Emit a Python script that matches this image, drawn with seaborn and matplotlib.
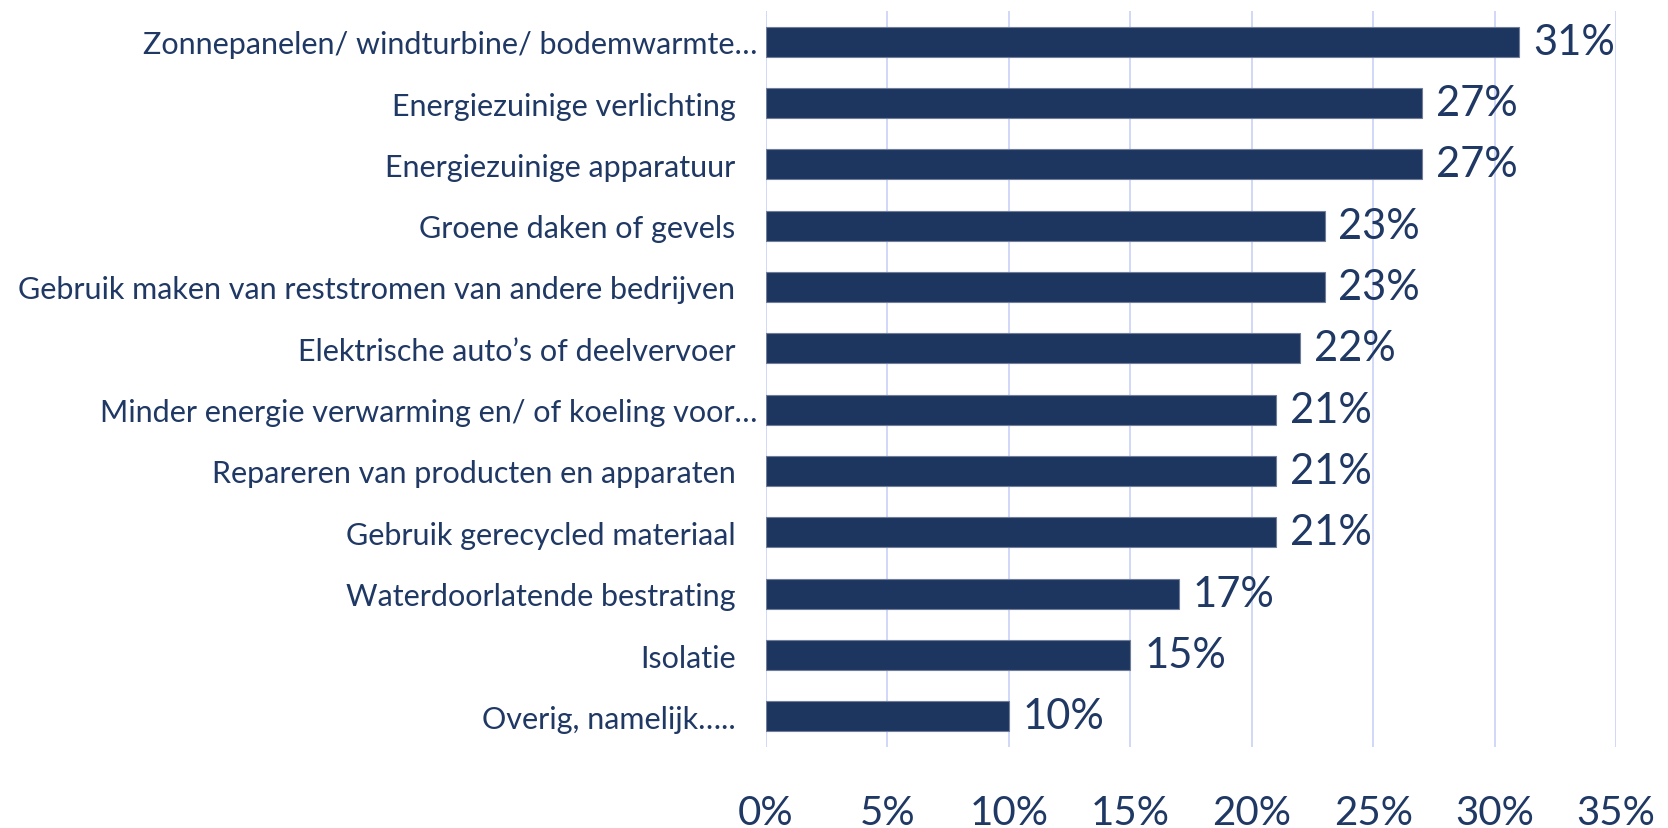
import matplotlib
matplotlib.use("Agg")
import matplotlib.pyplot as plt
import seaborn as sns
import pandas as pd

categories = [
    "Zonnepanelen/ windturbine/ bodemwarmte…",
    "Energiezuinige verlichting",
    "Energiezuinige apparatuur",
    "Groene daken of gevels",
    "Gebruik maken van reststromen van andere bedrijven",
    "Elektrische auto’s of deelvervoer",
    "Minder energie verwarming en/ of koeling voor…",
    "Repareren van producten en apparaten",
    "Gebruik gerecycled materiaal",
    "Waterdoorlatende bestrating",
    "Isolatie",
    "Overig, namelijk…..",
]
values = [31, 27, 27, 23, 23, 22, 21, 21, 21, 17, 15, 10]
xticks = [0, 5, 10, 15, 20, 25, 30, 35]
xticklabels = ["0%", "5%", "10%", "15%", "20%", "25%", "30%", "35%"]

sns.set_theme(style="white")
plt.rcParams['font.family'] = ['Lato', 'DejaVu Sans']

BAR = "#1D3660"
TXT = "#1F3864"
GRID = "#C9D2F7"

df = pd.DataFrame({"cat": categories, "val": values})

fig = plt.figure(figsize=(16.68, 8.29), dpi=100)
ax = fig.add_axes([766/1668, 1 - 748/829, 850/1668, 736/829])

sns.barplot(data=df, y="cat", x="val", orient="h", color=BAR, width=0.49,
            edgecolor="#6F7D99", linewidth=0.8, saturation=1, ax=ax, zorder=3)

ax.set_xlim(0, 35)
ax.set_ylim(len(categories) - 0.5, -0.5)
ax.set_xticks(xticks)
ax.set_xticklabels(xticklabels, fontsize=29, color=TXT)
ax.tick_params(axis="x", length=0, pad=34)
ax.tick_params(axis="y", length=0, labelsize=22, labelcolor=TXT)
for tick, lab in zip(ax.yaxis.get_major_ticks(), categories):
    tick.set_pad(6.5 if lab.endswith("…") and not lab.endswith("…..") else 22)

ax.set_xlabel("")
ax.set_ylabel("")
for s in ax.spines.values():
    s.set_visible(False)
ax.xaxis.grid(True, color=GRID, linewidth=1.2, zorder=0)
ax.yaxis.grid(False)

for i, v in enumerate(values):
    ax.annotate(f"{v}%", xy=(v, i), xytext=(10, 0), textcoords="offset points",
                va="center", ha="left", fontsize=30, color=TXT)

fig.savefig("out.png", dpi=100)
